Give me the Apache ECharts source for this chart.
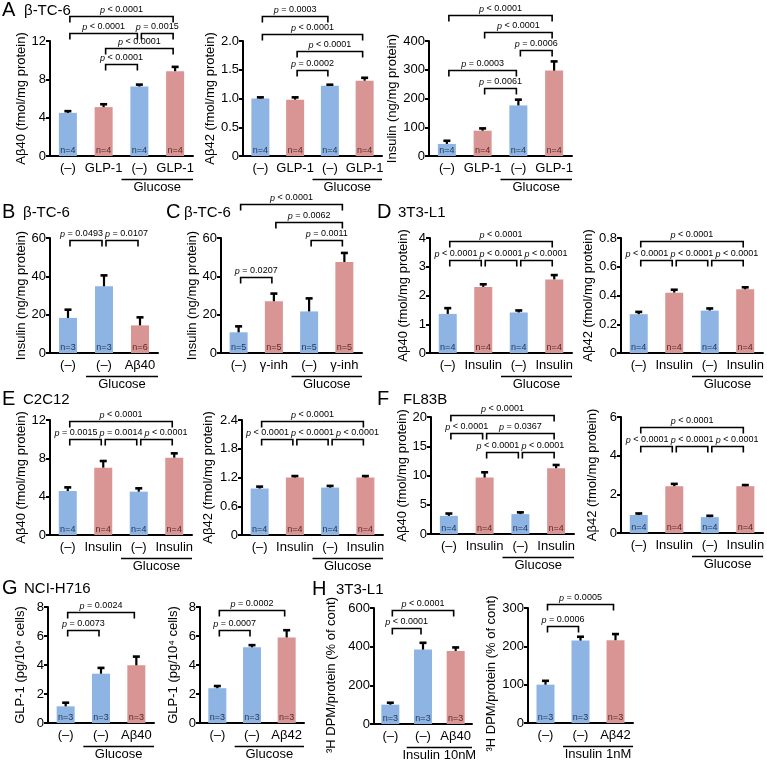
<!DOCTYPE html>
<html><head><meta charset="utf-8">
<script src="https://cdn.jsdelivr.net/npm/echarts@6/dist/echarts.min.js"></script>
<style>html,body{margin:0;padding:0;background:#fff}#c{width:767px;height:760px}</style>
</head><body><div id="c"></div>
<script>
// ---------- DATA ----------
const catsGLP = ['(–)', 'GLP-1', '(–)', 'GLP-1'];
const catsB = ['(–)', '(–)', 'Aβ40'];
const catsGinh = ['(–)', 'γ-inh', '(–)', 'γ-inh'];
const catsIns = ['(–)', 'Insulin', '(–)', 'Insulin'];
const catsAb40 = ['(–)', '(–)', 'Aβ40'];
const catsAb42 = ['(–)', '(–)', 'Aβ42'];

const a1Mean = [4.5, 5.1, 7.25, 8.85];   const a1Err = [0.18, 0.3, 0.2, 0.45];
const a2Mean = [1.0, 0.98, 1.22, 1.31];  const a2Err = [0.02, 0.04, 0.02, 0.05];
const a3Mean = [42, 88, 176, 297];       const a3Err = [11, 8, 20, 32];
const bMean = [18.3, 34.8, 14.4];        const bErr = [4.3, 5.7, 4.2];
const cMean = [10.8, 27, 21.7, 47.5];    const cErr = [3.1, 4, 6.8, 4.7];
const d1Mean = [1.36, 2.3, 1.41, 2.56];  const d1Err = [0.2, 0.09, 0.07, 0.15];
const d2Mean = [0.27, 0.42, 0.295, 0.443]; const d2Err = [0.016, 0.02, 0.015, 0.014];
const e1Mean = [4.59, 7.03, 4.52, 8.07]; const e1Err = [0.38, 0.69, 0.35, 0.45];
const e2Mean = [0.97, 1.2, 0.99, 1.2];   const e2Err = [0.04, 0.03, 0.035, 0.03];
const f1Mean = [3.1, 9.65, 3.4, 11.25];  const f1Err = [0.4, 0.9, 0.3, 0.55];
const f2Mean = [0.93, 2.42, 0.82, 2.42]; const f2Err = [0.08, 0.12, 0.07, 0.06];
const g1Mean = [1.15, 3.4, 3.98];        const g1Err = [0.25, 0.4, 0.6];
const g2Mean = [2.4, 5.22, 5.9];         const g2Err = [0.15, 0.15, 0.5];
const h1Mean = [100, 385, 378];          const h1Err = [10, 35, 18];
const h2Mean = [100, 215, 216];          const h2Err = [10, 10, 16];

const nA = ['n=4', 'n=4', 'n=4', 'n=4'];
const nB = ['n=3', 'n=3', 'n=6'];
const nC = ['n=5', 'n=5', 'n=5', 'n=5'];
const n3 = ['n=3', 'n=3', 'n=3'];

// brackets: [from, to, level, p-text]
const a1Br = [[0,3,14.6,'< 0.0001'],[0,2,12.8,'< 0.0001'],[2,3,12.8,'= 0.0015'],[1,3,11.3,'< 0.0001'],[1,2,9.55,'< 0.0001']];
const a2Br = [[0,2,2.43,'= 0.0003'],[0,3,2.13,'< 0.0001'],[1,3,1.83,'< 0.0001'],[1,2,1.49,'= 0.0002']];
const a3Br = [[0,3,489,'< 0.0001'],[1,3,430,'< 0.0001'],[2,3,370,'= 0.0006'],[0,2,298,'= 0.0003'],[1,2,235,'= 0.0061']];
const bBr = [[0,1,59,'= 0.0493'],[1,2,59,'= 0.0107']];
const cBr = [[0,3,78,'< 0.0001'],[1,3,68.3,'= 0.0062'],[2,3,58.7,'= 0.0011'],[0,1,39.6,'= 0.0207']];
const d1Br = [[0,3,3.89,'< 0.0001'],[0,1,3.25,'< 0.0001'],[1,2,3.25,'< 0.0001'],[2,3,3.25,'< 0.0001']];
const d2Br = [[0,3,0.777,'< 0.0001'],[0,1,0.65,'< 0.0001'],[1,2,0.65,'< 0.0001'],[2,3,0.65,'< 0.0001']];
const e1Br = [[0,3,11.9,'< 0.0001'],[0,1,9.98,'= 0.0015'],[1,2,9.98,'= 0.0014'],[2,3,9.98,'< 0.0001']];
const e2Br = [[0,3,2.38,'< 0.0001'],[0,1,2.0,'< 0.0001'],[1,2,2.0,'< 0.0001'],[2,3,2.0,'< 0.0001']];
const f1Br = [[0,3,20.3,'< 0.0001'],[0,1,17.3,'< 0.0001'],[1,3,17.3,'= 0.0367'],[1,2,14.1,'< 0.0001'],[2,3,14.1,'< 0.0001']];
const f2Br = [[0,3,5.5,'< 0.0001'],[0,1,4.52,'< 0.0001'],[1,2,4.52,'< 0.0001'],[2,3,4.52,'< 0.0001']];
const g1Br = [[0,2,7.66,'= 0.0024'],[0,1,6.39,'= 0.0073']];
const g2Br = [[0,2,7.77,'= 0.0002'],[0,1,6.39,'= 0.0007']];
const h1Br = [[0,2,591,'< 0.0001'],[0,1,497,'< 0.0001']];
const h2Br = [[0,2,310,'= 0.0005'],[0,1,252,'= 0.0006']];

// group underline: [fromCat, toCat, text]
const grpGlc4 = [2, 3, 'Glucose'];
const grpGlc3 = [1, 2, 'Glucose'];
const grpIns10 = [1, 2, 'Insulin 10nM'];
const grpIns1 = [1, 2, 'Insulin 1nM'];

// ---------- LAYOUT / STYLE ----------
const FONT = '"Liberation Sans", Arial, Helvetica, sans-serif';
const BLUE = '#8db4e3', RED = '#d99593';
const LBL = {B: '#23395b', R: '#5a2b2b'};
const COL = {B: BLUE, R: RED};

const charts = [
  {cats:catsGLP, mean:a1Mean, err:a1Err, n:nA, br:a1Br, grp:grpGlc4, yName:'Aβ40 (fmol/mg protein)', yMax:12, yStep:4, dec:0, box:[50,41,143,115], gap:17, pat:'BRBR'},
  {cats:catsGLP, mean:a2Mean, err:a2Err, n:nA, br:a2Br, grp:grpGlc4, yName:'Aβ42 (fmol/mg protein)', yMax:2, yStep:0.5, dec:1, box:[243,41,139,115], gap:18, pat:'BRBR'},
  {cats:catsGLP, mean:a3Mean, err:a3Err, n:nA, br:a3Br, grp:grpGlc4, yName:'Insulin (ng/mg protein)', yMax:400, yStep:100, dec:0, box:[429,41,143,115], gap:25, pat:'BRBR'},
  {cats:catsB, mean:bMean, err:bErr, n:nB, br:bBr, grp:grpGlc3, yName:'Insulin (ng/mg protein)', yMax:60, yStep:20, dec:0, box:[50,238,108,115], gap:17, pat:'BBR'},
  {cats:catsGinh, mean:cMean, err:cErr, n:nC, br:cBr, grp:grpGlc4, yName:'Insulin (ng/mg protein)', yMax:60, yStep:20, dec:0, box:[221,238,141,115], gap:18, pat:'BRBR'},
  {cats:catsIns, mean:d1Mean, err:d1Err, n:nA, br:d1Br, grp:grpGlc4, yName:'Aβ40 (fmol/mg protein)', yMax:4, yStep:1, dec:0, box:[430,238,142,115], gap:20, pat:'BRBR'},
  {cats:catsIns, mean:d2Mean, err:d2Err, n:nA, br:d2Br, grp:grpGlc4, yName:'Aβ42 (fmol/mg protein)', yMax:0.8, yStep:0.2, dec:1, box:[621,238,142,115], gap:24, pat:'BRBR'},
  {cats:catsIns, mean:e1Mean, err:e1Err, n:nA, br:e1Br, grp:grpGlc4, yName:'Aβ40 (fmol/mg protein)', yMax:12, yStep:4, dec:0, box:[50,420,142,115], gap:21, pat:'BRBR'},
  {cats:catsIns, mean:e2Mean, err:e2Err, n:nA, br:e2Br, grp:grpGlc4, yName:'Aβ42 (fmol/mg protein)', yMax:2.4, yStep:0.6, dec:1, box:[242,420,141,115], gap:27, pat:'BRBR'},
  {cats:catsIns, mean:f1Mean, err:f1Err, n:nA, br:f1Br, grp:grpGlc4, yName:'Aβ40 (fmol/mg protein)', yMax:20, yStep:5, dec:0, box:[431,417,143,117], gap:21, pat:'BRBR'},
  {cats:catsIns, mean:f2Mean, err:f2Err, n:nA, br:f2Br, grp:grpGlc4, yName:'Aβ42 (fmol/mg protein)', yMax:6, yStep:2, dec:0, box:[621,417,143,116], gap:22, pat:'BRBR'},
  {cats:catsAb40, mean:g1Mean, err:g1Err, n:n3, br:g1Br, grp:grpGlc3, yName:'GLP-1 (pg/10⁴ cells)', yMax:8, yStep:2, dec:0, box:[48,607,106,116], gap:21, pat:'BBR'},
  {cats:catsAb42, mean:g2Mean, err:g2Err, n:n3, br:g2Br, grp:grpGlc3, yName:'GLP-1 (pg/10⁴ cells)', yMax:8, yStep:2, dec:0, box:[200,607,104,116], gap:20, pat:'BBR'},
  {cats:catsAb40, mean:h1Mean, err:h1Err, n:n3, br:h1Br, grp:grpIns10, yName:'³H DPM/protein (% of cont)', yMax:600, yStep:200, dec:0, box:[374,608,98,116], gap:36, pat:'BBR', namePad:[0,18,0,0]},
  {cats:catsAb42, mean:h2Mean, err:h2Err, n:n3, br:h2Br, grp:grpIns1, yName:'³H DPM/protein (% of cont)', yMax:300, yStep:100, dec:0, box:[528,608,105,115], gap:25, pat:'BBR', namePad:[0,16,0,0]}
];

const titles = [
  ['A',2,10,20],['β-TC-6',24,11,15],
  ['B',2,212,20],['β-TC-6',23,213,15],
  ['C',166,212,20],['β-TC-6',184,213,15],
  ['D',377,212,20],['3T3-L1',398,213,15],
  ['E',2,399,20],['C2C12',23,400,15],
  ['F',377,399,20],['FL83B',403,400,15],
  ['G',2,588,20],['NCI-H716',24,589,15],
  ['H',312,589,20],['3T3-L1',336,590,15]
];

// ---------- RENDERERS ----------
function errRender(params, api) {
  const x = api.value(0), m = api.value(1), e = api.value(2);
  const b = api.coord([x, m]), t = api.coord([x, m + e]);
  return {type:'group', children:[
    {type:'line', shape:{x1:b[0], y1:b[1], x2:t[0], y2:t[1]}, style:{stroke:'#000', lineWidth:2.2}},
    {type:'line', shape:{x1:t[0]-3.5, y1:t[1], x2:t[0]+3.5, y2:t[1]}, style:{stroke:'#000', lineWidth:2.6}}
  ]};
}
// label centre for bracket k; spreads labels that share a level and would collide
function labelX(list, k, api) {
  const lv = list[k][2];
  const same = [];
  list.forEach((b, j) => {
    if (Math.abs(b[2] - lv) < 1e-9) {
      const a = api.coord([b[0], lv])[0], c = api.coord([b[1], lv])[0];
      same.push({j: j, c: (a + c) / 2});
    }
  });
  same.sort((p, q) => p.c - q.c);
  const W = 45;
  let crowded = false;
  for (let i = 1; i < same.length; i++) if (same[i].c - same[i-1].c < W) crowded = true;
  const me = same.findIndex(o => o.j === k);
  if (!crowded) return same[me].c;
  const mean = same.reduce((s, o) => s + o.c, 0) / same.length;
  return mean + (me - (same.length - 1) / 2) * W;
}
function makeBracketRender(list) {
  return function (params, api) {
    const x1 = api.value(0), x2 = api.value(1), lv = api.value(2), k = api.value(3);
    const p1 = api.coord([x1, lv]), p2 = api.coord([x2, lv]);
    const L = p1[0] + 2, R = p2[0] - 2, y = Math.round(p1[1]) + 0.5, t = 6;
    const lx = labelX(list, k, api);
    return {type:'group', children:[
      {type:'polyline', shape:{points:[[L, y+t],[L, y],[R, y],[R, y+t]]}, style:{stroke:'#000', lineWidth:1.6, fill:null}},
      {type:'text', style:{text:'{i|p} ' + list[k][3], x:lx, y:y-2,
        textAlign:'center', align:'center', textVerticalAlign:'bottom', verticalAlign:'bottom',
        fontSize:9, fontFamily:FONT, fill:'#000',
        rich:{i:{fontStyle:'italic', fontSize:9, fontFamily:FONT, fill:'#000'}}}}
    ]};
  };
}
function makeGroupRender(g) {
  return function (params, api) {
    const w = api.size([1, 0])[0];
    const ps = api.coord([g[0], 0]), pe = api.coord([g[1], 0]);
    const L = ps[0] - w/2, R = pe[0] + w/2, y0 = ps[1];
    return {type:'group', children:[
      {type:'line', shape:{x1:L, y1:y0+23.5, x2:R, y2:y0+23.5}, style:{stroke:'#000', lineWidth:1.3}},
      {type:'text', style:{text:g[2], x:(L+R)/2, y:y0+31.5, textAlign:'center', align:'center',
        textVerticalAlign:'middle', verticalAlign:'middle', fontSize:13, fontFamily:FONT, fill:'#000'}}
    ]};
  };
}

// ---------- BUILD ----------
const grid = [], xAxis = [], yAxis = [], series = [];
charts.forEach((c, i) => {
  grid.push({left:c.box[0], top:c.box[1], width:c.box[2], height:c.box[3]});
  xAxis.push({type:'category', gridIndex:i, data:c.cats,
    axisLine:{lineStyle:{color:'#000', width:2}}, axisTick:{show:false},
    axisLabel:{color:'#000', fontSize:13, fontFamily:FONT, margin:6, interval:0}});
  yAxis.push({type:'value', gridIndex:i, min:0, max:c.yMax, interval:c.yStep,
    name:c.yName, nameLocation:'middle', nameGap:c.gap,
    nameTextStyle:{color:'#000', fontSize:13, fontFamily:FONT, padding:c.namePad || 0},
    axisLine:{show:true, lineStyle:{color:'#000', width:2}},
    axisTick:{show:true, length:4, lineStyle:{color:'#000', width:2}},
    splitLine:{show:false},
    axisLabel:{color:'#000', fontSize:13, fontFamily:FONT, margin:4,
      formatter: v => (Math.abs(v) < 1e-9 ? '0' : v.toFixed(c.dec))}});
  series.push({type:'bar', xAxisIndex:i, yAxisIndex:i, barWidth:18, silent:true,
    data:c.mean.map((v, k) => ({value:v, itemStyle:{color:COL[c.pat[k]]},
      label:{color:LBL[c.pat[k]]}})),
    label:{show:true, position:'insideBottom', distance:1, fontSize:9, fontFamily:FONT,
      formatter: p => c.n[p.dataIndex]}});
  series.push({type:'custom', xAxisIndex:i, yAxisIndex:i, silent:true, z:3,
    data:c.mean.map((v, k) => [k, v, c.err[k]]), renderItem:errRender});
  series.push({type:'custom', xAxisIndex:i, yAxisIndex:i, silent:true, z:3,
    data:c.br.map((b, k) => [b[0], b[1], b[2], k]), renderItem:makeBracketRender(c.br)});
  series.push({type:'custom', xAxisIndex:i, yAxisIndex:i, silent:true, z:3,
    data:[[c.grp[0], c.grp[1]]], renderItem:makeGroupRender(c.grp)});
});

const graphic = titles.map(t => ({type:'text', x:t[1], y:t[2], silent:true,
  style:{text:t[0], fontSize:t[3], fontFamily:FONT, fill:'#000',
    textVerticalAlign:'middle', verticalAlign:'middle', textAlign:'left', align:'left'}}));

const chart = echarts.init(document.getElementById('c'), null, {renderer:'canvas'});
chart.setOption({animation:false, backgroundColor:'#fff', grid, xAxis, yAxis, series, graphic});
</script>
</body></html>
